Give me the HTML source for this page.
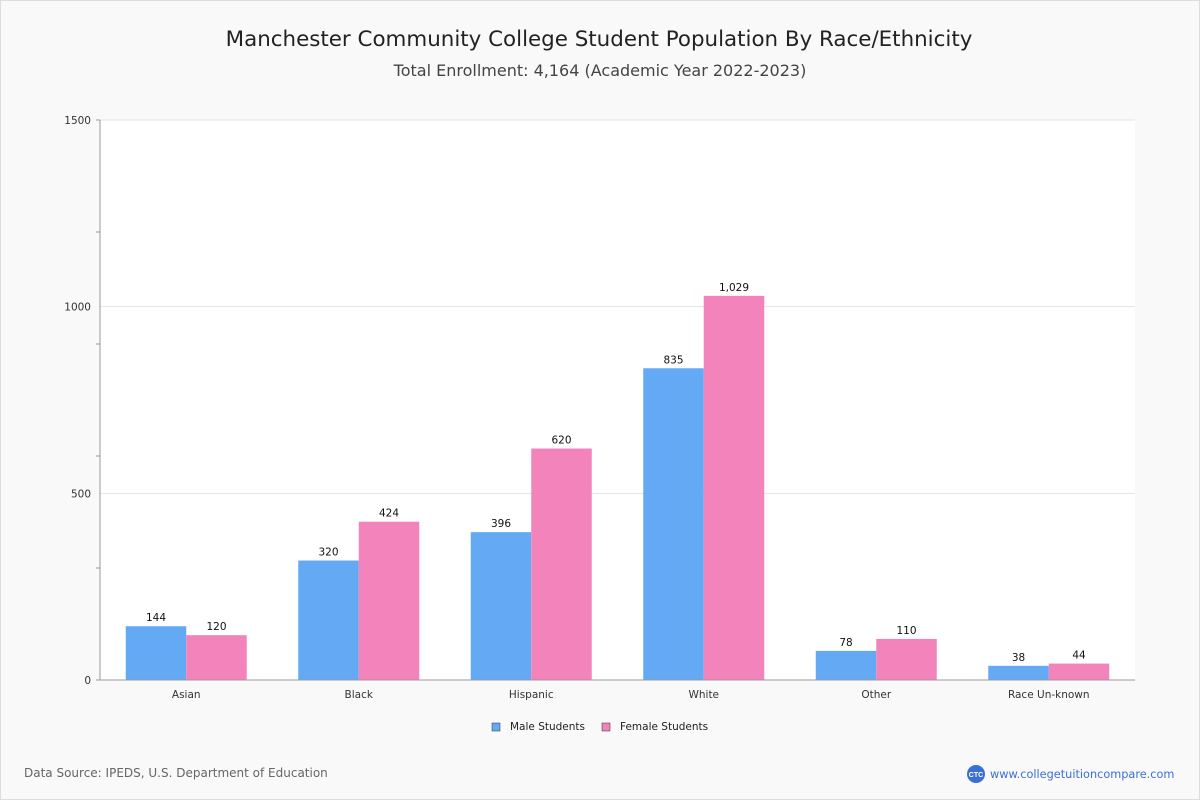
<!DOCTYPE html>
<html><head><meta charset="utf-8"><style>
body{margin:0;width:1200px;height:800px;background:#f9f9f9;font-family:"Liberation Sans","DejaVu Sans",sans-serif;overflow:hidden}
.frame{position:absolute;left:0;top:0;width:1198px;height:798px;border:1px solid #ddd}
</style></head><body>
<div class="frame"></div>
<svg width="1200" height="800" style="position:absolute;left:0;top:0" id="chart">
<text x="599" y="46" text-anchor="middle" font-size="21.4" fill="#222" font-family="DejaVu Sans, sans-serif">Manchester Community College Student Population By Race/Ethnicity</text>
<text x="600" y="76" text-anchor="middle" font-size="16" fill="#444" font-family="DejaVu Sans, sans-serif">Total Enrollment: 4,164 (Academic Year 2022-2023)</text>
<rect x="100" y="120" width="1035" height="560" fill="#fff"/>
<g id="grid"></g><g id="bars"></g><g id="axes"></g>
<g font-size="10.5" fill="#222" font-family="DejaVu Sans, sans-serif">
<rect x="492" y="723" width="8" height="8" fill="#63a9f3" stroke="#333" stroke-width="0.5"/>
<text x="510" y="730">Male Students</text>
<rect x="602" y="723" width="8" height="8" fill="#f283bb" stroke="#333" stroke-width="0.5"/>
<text x="620" y="730">Female Students</text>
</g>
<text x="24" y="777" font-size="12" fill="#666" font-family="DejaVu Sans, sans-serif">Data Source: IPEDS, U.S. Department of Education</text>
<circle cx="976" cy="774" r="9" fill="#3a6fd8"/>
<text x="976" y="777" font-size="7" fill="#fff" text-anchor="middle" font-weight="bold">CTC</text>
<text x="990" y="778" font-size="11.3" fill="#3a6fd8" font-family="DejaVu Sans, sans-serif">www.collegetuitioncompare.com</text>
</svg>
<script>
const categories=["Asian","Black","Hispanic","White","Other","Race Un-known"];
const maleValues=[144,320,396,835,78,38];
const femaleValues=[120,424,620,1029,110,44];
const yTicks=[0,500,1000,1500];
const NS="http://www.w3.org/2000/svg";
const L=100,R=1135,T=120,B=680,MAX=1500;
const y=v=>B-(v/MAX)*(B-T);
const band=(R-L)/categories.length;
const x=i=>L+band*i+band/2;
function mk(tag,attrs,parent,text){const e=document.createElementNS(NS,tag);for(const k in attrs)e.setAttribute(k,attrs[k]);if(text!==undefined)e.textContent=text;document.getElementById(parent).appendChild(e);return e;}
const fmt=v=>v.toLocaleString('en-US');
yTicks.forEach(t=>{
 if(t>0){const g=mk('line',{x1:L,x2:R,y1:y(t),y2:y(t),stroke:'#e3e3e3'},'grid');
 
 }
 const tl=mk('text',{x:L-9,y:y(t)+4,'text-anchor':'end','font-size':10.5,fill:'#333','font-family':'DejaVu Sans, sans-serif'},'axes',String(t));
 
 
});
for(let v=0;v<=MAX;v+=300){mk('line',{x1:L-4,x2:L,y1:y(v),y2:y(v),stroke:'#999'},'axes');}
mk('line',{x1:L,x2:L,y1:T,y2:B,stroke:'#999'},'axes');
mk('line',{x1:L,x2:R,y1:B,y2:B,stroke:'#999'},'axes');
const bw=60.5;
categories.forEach((c,i)=>{
 const cx=x(i);
 const m=mk('rect',{x:cx-bw,y:y(maleValues[i]),width:bw,height:B-y(maleValues[i]),fill:'#63a9f3'},'bars');
 
 
 const f=mk('rect',{x:cx,y:y(femaleValues[i]),width:bw,height:B-y(femaleValues[i]),fill:'#f283bb'},'bars');
 
 
 const a={'text-anchor':'middle','font-size':10.5,fill:'#111','font-family':'DejaVu Sans, sans-serif'};
 const ml=mk('text',Object.assign({x:cx-bw/2,y:y(maleValues[i])-5},a),'bars',fmt(maleValues[i]));
 
 
 const fl=mk('text',Object.assign({x:cx+bw/2,y:y(femaleValues[i])-5},a),'bars',fmt(femaleValues[i]));
 
 
 const xl=mk('text',{x:cx,y:B+18,'text-anchor':'middle','font-size':10.5,fill:'#333','font-family':'DejaVu Sans, sans-serif'},'axes',c);
 
 
});
</script>
</body></html>
